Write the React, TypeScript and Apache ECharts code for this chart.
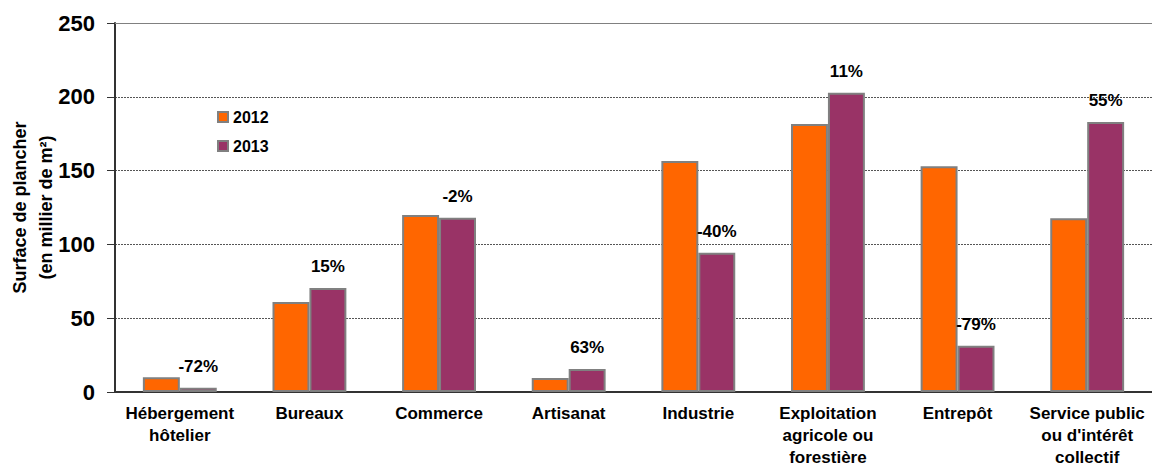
import React, { useEffect, useRef } from "react";
import * as echarts from "echarts";

const categories = [
  "Hébergement\nhôtelier",
  "Bureaux",
  "Commerce",
  "Artisanat",
  "Industrie",
  "Exploitation\nagricole ou\nforestière",
  "Entrepôt",
  "Service public\nou d'intérêt\ncollectif",
];
const values2012 = [10, 61, 120, 9.5, 156.5, 181.5, 153, 117.7];
const values2013 = [2.8, 70.5, 118, 15.5, 94.4, 202.8, 31.4, 183];
const changeLabels = ["-72%", "15%", "-2%", "63%", "-40%", "11%", "-79%", "55%"];
const yTicks = { min: 0, max: 250, interval: 50 };

const FONT = "'Liberation Sans', Arial, sans-serif";

export default function App() {
  const ref = useRef<HTMLDivElement>(null);
  useEffect(() => {
    document.body.style.margin = "0";
    const chart = echarts.init(ref.current!, null, { renderer: "svg" });
    chart.setOption({
      animation: false,
      backgroundColor: "#ffffff",
      textStyle: { fontFamily: FONT },
      grid: {
        left: 115,
        right: 0,
        top: 23,
        bottom: 76,
        containLabel: false,
        outerBoundsMode: "none",
      },
      legend: {
        orient: "vertical",
        left: 212,
        top: 104,
        itemWidth: 10,
        itemHeight: 10,
        itemGap: 13,
        icon: "rect",
        textStyle: { fontFamily: FONT, fontSize: 16, fontWeight: "bold", color: "#000", lineHeight: 16 },
        data: ["2012", "2013"],
      },
      xAxis: [
        {
          type: "category",
          data: categories,
          axisLine: { lineStyle: { color: "#333", width: 2 } },
          axisTick: { show: false },
          axisLabel: {
            interval: 0,
            margin: 10,
            fontFamily: FONT,
            fontSize: 17,
            fontWeight: "bold",
            color: "#000",
            lineHeight: 22,
          },
        },
        {
          type: "category",
          position: "top",
          data: categories,
          axisLine: { lineStyle: { color: "#808080", width: 1 } },
          axisTick: { show: false },
          axisLabel: { show: false },
        },
      ],
      yAxis: {
        type: "value",
        min: yTicks.min,
        max: yTicks.max,
        interval: yTicks.interval,
        name: "Surface de plancher\n(en millier de m²)",
        nameLocation: "middle",
        nameGap: 56,
        nameMoveOverlap: false,
        nameTextStyle: {
          fontFamily: FONT,
          fontSize: 18,
          fontWeight: "bold",
          color: "#000",
          lineHeight: 26,
        },
        axisLine: { show: true, lineStyle: { color: "#333", width: 2 } },
        axisTick: { show: true, length: 8, lineStyle: { color: "#333" } },
        axisLabel: {
          margin: 20,
          fontFamily: FONT,
          fontSize: 22,
          fontWeight: "bold",
          color: "#000",
        },
        splitLine: { lineStyle: { color: "#555", type: [2, 1], width: 1 } },
      },
      series: [
        {
          name: "2012",
          type: "bar",
          data: values2012,
          barGap: "0%",
          barCategoryGap: "43%",
          itemStyle: { color: "#FF6600", borderColor: "#808080", borderWidth: 2 },
        },
        {
          name: "2013",
          type: "bar",
          data: values2013,
          barGap: "0%",
          barCategoryGap: "43%",
          itemStyle: { color: "#993366", borderColor: "#808080", borderWidth: 2 },
          label: {
            show: true,
            position: "top",
            distance: 13,
            fontFamily: FONT,
            fontSize: 17,
            fontWeight: "bold",
            color: "#000",
            formatter: (p: any) => changeLabels[p.dataIndex],
          },
        },
      ],
    });
    return () => chart.dispose();
  }, []);
  return <div ref={ref} style={{ width: 1152, height: 468 }} />;
}
